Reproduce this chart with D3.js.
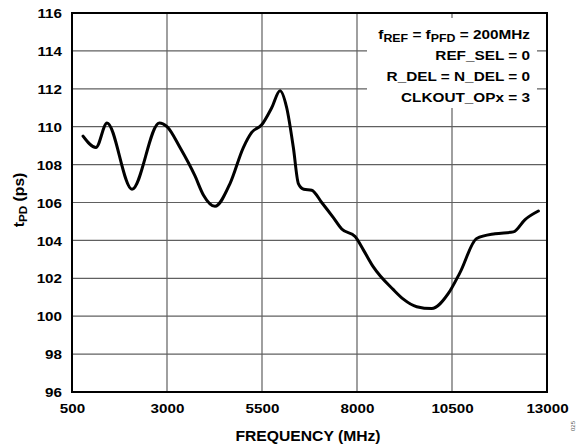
<!DOCTYPE html>
<html><head><meta charset="utf-8">
<script src="https://cdn.jsdelivr.net/npm/d3@7"></script>
<style>body{margin:0;background:#fff}svg{display:block}text{font-family:"Liberation Sans",Arial,sans-serif;font-weight:bold;fill:#000}</style>
</head><body><svg id="c" width="577" height="448"></svg>
<script>
const freq = [790, 1130, 1421, 2079, 2798, 3000, 3342, 3737, 3957, 4263, 4658, 5009, 5229, 5492, 5755, 5974, 6150, 6325, 6457, 6600, 6808, 7071, 7378, 7598, 7950, 8167, 8430, 8957, 9220, 9571, 9965, 10404, 10710, 11150, 11634, 12115, 12423, 12773];
const tpd = [109.5, 108.9, 110.2, 106.7, 110.2, 110.0, 108.9, 107.4, 106.4, 105.8, 107.0, 108.9, 109.7, 110.1, 111.0, 111.9, 111.0, 108.9, 107.0, 106.7, 106.65, 106.0, 105.2, 104.6, 104.2, 103.5, 102.6, 101.4, 100.9, 100.5, 100.4, 101.2, 102.3, 104.1, 104.35, 104.45, 105.1, 105.55];
const xTicks = [500, 3000, 5500, 8000, 10500, 13000];
const yTicks = [96, 98, 100, 102, 104, 106, 108, 110, 112, 114, 116];
const legendLines = ["REF_SEL = 0", "R_DEL = N_DEL = 0", "CLKOUT_OPx = 3"];

const svg = d3.select("#c");
const L = 72, R = 547, T = 13, B = 392;
const x = d3.scaleLinear().domain([500, 13000]).range([L, R]);
const y = d3.scaleLinear().domain([96, 116]).range([B, T]);
const SX = 1.17;

// grid
const grid = svg.append("g").attr("stroke", "#606060").attr("stroke-width", 1.2);
grid.selectAll("line.h").data(yTicks).join("line").attr("class","h")
  .attr("x1", L).attr("x2", R).attr("y1", d => y(d)).attr("y2", d => y(d));
grid.selectAll("line.v").data(xTicks).join("line").attr("class","v")
  .attr("y1", T).attr("y2", B).attr("x1", d => x(d)).attr("x2", d => x(d));

// legend background
svg.append("rect").attr("x", 367).attr("y", 18).attr("width", 170).attr("height", 90).attr("fill", "#fff");

// frame
svg.append("rect").attr("x", L).attr("y", T).attr("width", R - L).attr("height", B - T)
  .attr("fill", "none").attr("stroke", "#000").attr("stroke-width", 2);

// axes (labels only)
const ya = svg.append("g").attr("transform", `translate(${L},0)`)
  .call(d3.axisLeft(y).tickValues(yTicks).tickSize(0).tickPadding(0));
ya.select(".domain").remove();
ya.selectAll("text").attr("x", -10 / SX).attr("dy", "0.36em")
  .attr("transform", `scale(${SX},1)`).style("font-size", "13px");
const xa = svg.append("g").attr("transform", `translate(0,${B})`)
  .call(d3.axisBottom(x).tickValues(xTicks).tickSize(0).tickPadding(0).tickFormat(d3.format("d")));
xa.select(".domain").remove();
xa.selectAll("text").attr("y", 21).attr("dy", 0)
  .attr("transform", `scale(${SX},1)`).style("font-size", "13px");

// curve
const line = d3.line().x((d, i) => x(freq[i])).y(d => y(d)).curve(d3.curveMonotoneX);
svg.append("path").datum(tpd).attr("d", line).attr("fill", "none")
  .attr("stroke", "#000").attr("stroke-width", 3).attr("stroke-linejoin", "round").attr("stroke-linecap", "round");

// legend text
const lg = svg.append("g").attr("transform", `translate(530,0) scale(1.18,1)`);
const t1 = lg.append("text").attr("x", 0).attr("y", 39.5).attr("text-anchor", "end").style("font-size", "13px");
t1.append("tspan").text("f");
t1.append("tspan").text("REF").style("font-size", "10.5px").attr("dy", 3);
t1.append("tspan").text(" = f").attr("dy", -3);
t1.append("tspan").text("PFD").style("font-size", "10.5px").attr("dy", 3);
t1.append("tspan").text(" = 200MHz").attr("dy", -3);
lg.selectAll("text.l").data(legendLines).join("text").attr("class", "l")
  .attr("x", 0).attr("y", (d, i) => 60.5 + i * 20.8).attr("text-anchor", "end").style("font-size", "13px").text(d => d);

// axis titles
svg.append("g").attr("transform", "translate(308,441) scale(1.12,1)")
  .append("text").attr("text-anchor", "middle").style("font-size", "14px").text("FREQUENCY (MHz)");
const yt = svg.append("g").attr("transform", "translate(24,200) rotate(-90) scale(1.12,1)")
  .append("text").attr("text-anchor", "middle").style("font-size", "14px");
yt.append("tspan").text("t");
yt.append("tspan").text("PD").style("font-size", "10.5px").attr("dy", 3);
yt.append("tspan").text(" (ps)").attr("dy", -3);

// side id
svg.append("text").attr("transform", "translate(575,431) rotate(-90)").style("font-size", "6px")
  .style("font-weight", "normal").style("fill", "#555").text("025");
</script></body></html>
